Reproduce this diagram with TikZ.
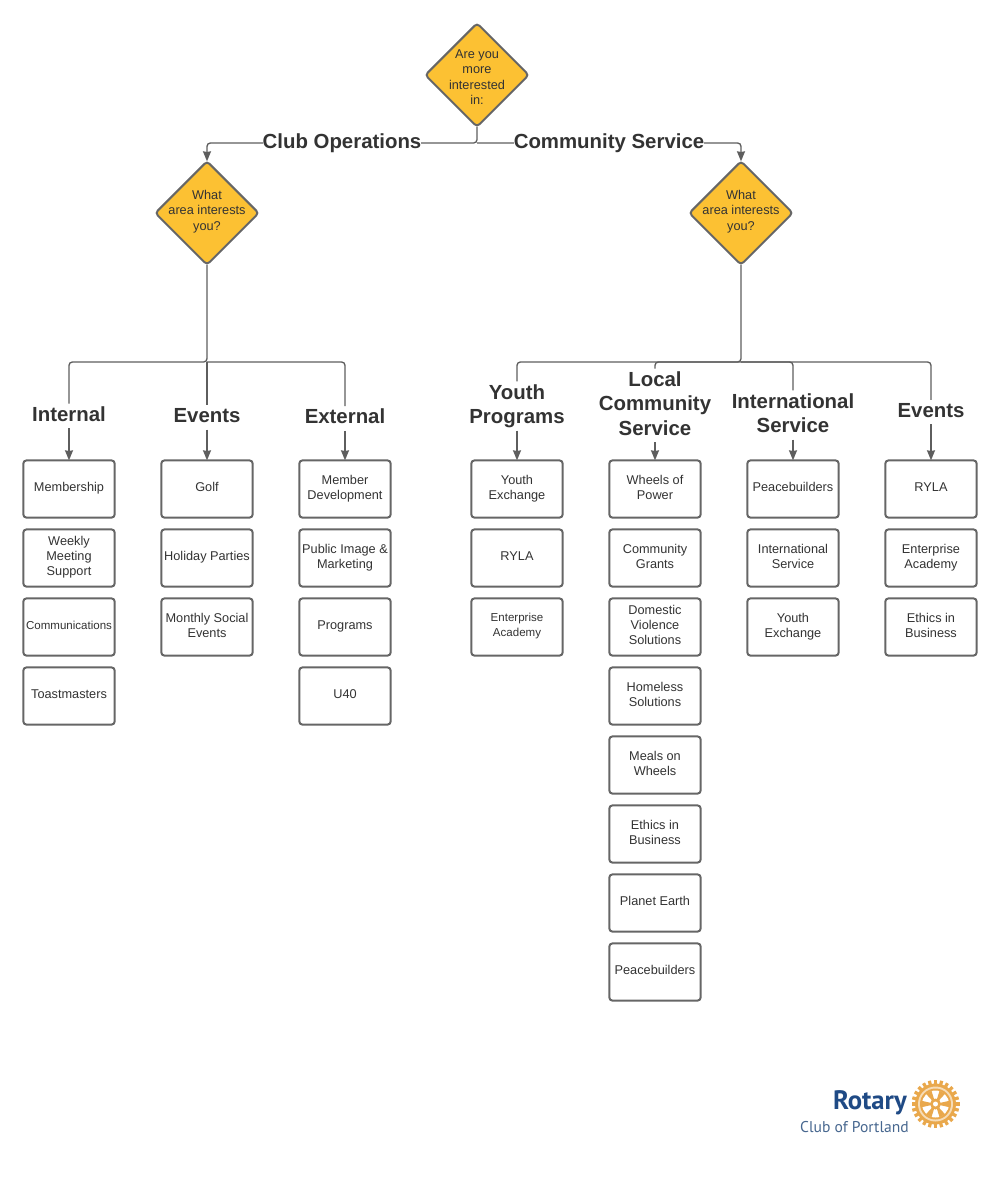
\documentclass[tikz,border=0pt]{standalone}
\usepackage{fontspec}
\setmainfont{Liberation Sans}
\newfontfamily\logofont{PT Sans}
\usetikzlibrary{shapes.geometric,arrows.meta}
\definecolor{linegray}{HTML}{5E5E5E}
\definecolor{boxgray}{HTML}{666666}
\definecolor{txtgray}{HTML}{333333}
\definecolor{decgold}{HTML}{FCC133}
\definecolor{wheelgold}{HTML}{E9A84C}
\definecolor{rotaryblue}{HTML}{1F4A85}
\definecolor{clubblue}{HTML}{47678F}
\tikzset{
  decision/.style={diamond,draw=boxgray,fill=decgold,line width=1.5pt,rounded corners=2.5pt,minimum width=77.5pt,minimum height=77.5pt,inner sep=0pt,outer sep=0pt},
  dectxt/.style={align=center,text=txtgray,font=\fontsize{9.55}{11.5}\selectfont},
  itembox/.style={rectangle,draw=boxgray,line width=1.5pt,rounded corners=2.5pt,minimum width=68.6pt,minimum height=43pt,inner sep=0pt,outer sep=0pt,align=center,text=txtgray,text depth=3pt,font=\fontsize{9.55}{11.3}\selectfont},
  smallbox/.style={itembox,font=\fontsize{8.65}{11.3}\selectfont},
  branch/.style={fill=white,align=center,text=txtgray,inner xsep=0pt,inner ysep=2.3pt,outer sep=0pt,text depth=3pt,font=\fontsize{15.3}{18.4}\selectfont\bfseries},
  flow/.style={draw=linegray,line width=1pt,rounded corners=2.5pt},
  flowarrow/.style={flow,->}
}
\begin{document}
\begin{tikzpicture}[x=.75pt,y=-.75pt,>={Stealth[length=7.5pt,width=6pt,inset=.5pt]}]
\useasboundingbox[fill=white] (0,0) rectangle (1000,1190);

% questions
\node[decision] (q0) at (477,75) {};
\node[decision] (q1) at (207,213) {};
\node[decision] (q2) at (741,213) {};
\node[dectxt] (q0txt) at (477,77) {Are you\\more\\interested\\in:};
\node[dectxt] (q1txt) at (207,211.5) {What\\area interests\\you?};
\node[dectxt] (q2txt) at (741,211.5) {What\\area interests\\you?};

\coordinate (j0) at (477,143);
\coordinate (j1) at (207,362);
\coordinate (j2) at (741,362);

\draw[flowarrow] (q0.south)--(j0)-|(q1.north);
\draw[flowarrow] (j0)-|(q2.north);
\node[branch] (clubops) at (342,143) {Club Operations};
\node[branch] (commserv) at (609,143) {Community Service};

% branch titles
\node[branch] (internal) at (69,416) {Internal};
\node[branch] (eventsa) at (207,417.5) {Events};
\node[branch] (external) at (345,418.5) {External};
\node[branch] (youth) at (517,406) {Youth\\Programs};
\node[branch] (local) at (655,405.5) {Local\\Community\\Service};
\node[branch] (intl) at (793,415) {International\\Service};
\node[branch] (eventsb) at (931,412) {Events};

\draw[flow] (q1.south)--(j1)-|(internal.north);
\draw[flow] (j1)--(eventsa.north);
\draw[flow] (j1)-|(external.north);
\draw[flow] (q2.south)--(j2)-|(youth.north);
\draw[flow] (j2)-|(local.north);
\draw[flow] (j2)-|(intl.north);
\draw[flow] (j2)-|(eventsb.north);

% Internal
\node[itembox] (a1) at (69,489) {Membership};
\node[itembox] (a2) at (69,558) {Weekly\\Meeting\\Support};
\node[smallbox] (a3) at (69,627) {Communications};
\node[itembox] (a4) at (69,696) {Toastmasters};
% Events
\node[itembox] (b1) at (207,489) {Golf};
\node[itembox] (b2) at (207,558) {Holiday Parties};
\node[itembox] (b3) at (207,627) {Monthly Social\\Events};
% External
\node[itembox] (c1) at (345,489) {Member\\Development};
\node[itembox] (c2) at (345,558) {Public Image \&\\Marketing};
\node[itembox] (c3) at (345,627) {Programs};
\node[itembox] (c4) at (345,696) {U40};
% Youth Programs
\node[itembox] (d1) at (517,489) {Youth\\Exchange};
\node[itembox] (d2) at (517,558) {RYLA};
\node[smallbox] (d3) at (517,627) {Enterprise\\Academy};
% Local Community Service
\node[itembox] (e1) at (655,489) {Wheels of\\Power};
\node[itembox] (e2) at (655,558) {Community\\Grants};
\node[itembox] (e3) at (655,627) {Domestic\\Violence\\Solutions};
\node[itembox] (e4) at (655,696) {Homeless\\Solutions};
\node[itembox] (e5) at (655,765) {Meals on\\Wheels};
\node[itembox] (e6) at (655,834) {Ethics in\\Business};
\node[itembox] (e7) at (655,903) {Planet Earth};
\node[itembox] (e8) at (655,972) {Peacebuilders};
% International Service
\node[itembox] (f1) at (793,489) {Peacebuilders};
\node[itembox] (f2) at (793,558) {International\\Service};
\node[itembox] (f3) at (793,627) {Youth\\Exchange};
% Events
\node[itembox] (g1) at (931,489) {RYLA};
\node[itembox] (g2) at (931,558) {Enterprise\\Academy};
\node[itembox] (g3) at (931,627) {Ethics in\\Business};

\draw[flowarrow] (internal.south)--(a1.north);
\draw[flowarrow] (eventsa.south)--(b1.north);
\draw[flowarrow] (external.south)--(c1.north);
\draw[flowarrow] (youth.south)--(d1.north);
\draw[flowarrow] (local.south)--(e1.north);
\draw[flowarrow] (intl.south)--(f1.north);
\draw[flowarrow] (eventsb.south)--(g1.north);

% logo
\node[text=rotaryblue,anchor=east,inner sep=0pt,font=\logofont\fontsize{20}{20}\selectfont\bfseries] (rotary) at (907,1103) {Rotary};
\node[text=clubblue,anchor=east,inner sep=0pt,font=\logofont\fontsize{11.7}{12}\selectfont] (club) at (909,1127) {Club of Portland};
\coordinate (hub) at (935.5,1104);
\foreach \a in {0,15,...,345}
  \draw[wheelgold,line width=2.4pt] (hub)+(\a:19)--+(\a:24);
\fill[wheelgold] (hub) circle(20.5);
\fill[white!60!wheelgold] (hub) circle(17.5);
\fill[wheelgold] (hub) circle(15.5);
\fill[white] (hub) circle(13.5);
\foreach \a in {0,60,...,300}
  \fill[wheelgold] (hub)+(\a-14:4)--+(\a-13:14)--+(\a+13:14)--+(\a+14:4)--cycle;
\fill[wheelgold] (hub) circle(5.5);
\fill[white] (hub) circle(2.5);
\end{tikzpicture}
\end{document}
